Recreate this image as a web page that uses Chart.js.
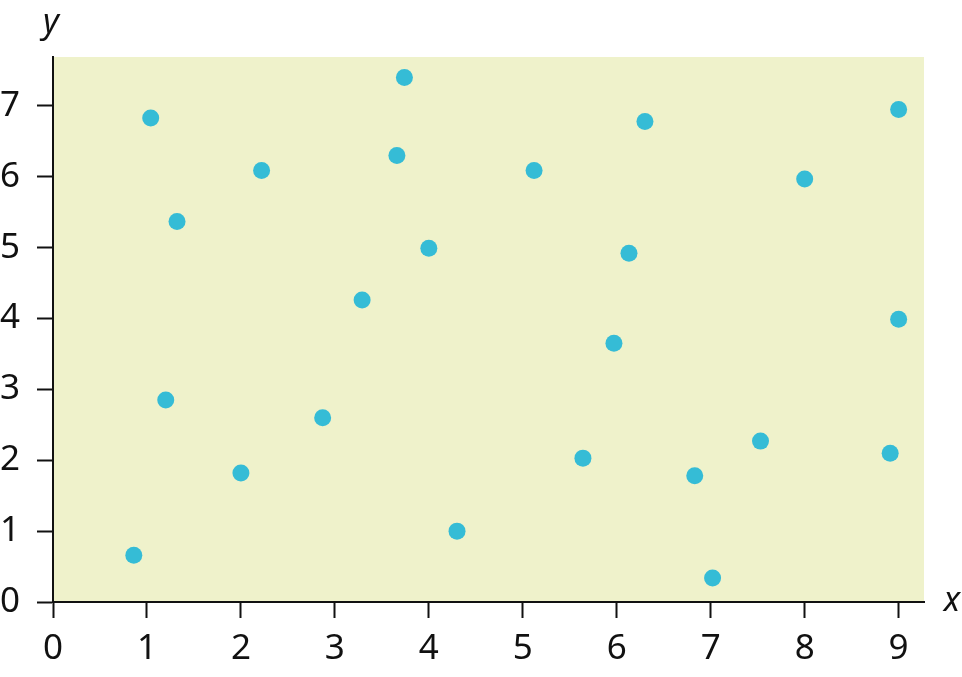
<!DOCTYPE html>
<html>
<head>
<meta charset="utf-8">
<script src="https://cdn.jsdelivr.net/npm/chart.js@4"></script>
<style>
  html, body { margin: 0; padding: 0; background: #ffffff; }
  #box { width: 962px; height: 677px; }
</style>
</head>
<body>
<div id="box"><canvas id="grafica"></canvas></div>
<script>
// datos
const xValues = [0.86, 1.04, 1.20, 1.32, 2.00, 2.22, 2.87, 3.29, 3.66, 3.74, 4.00, 4.30,
                 5.12, 5.64, 5.97, 6.13, 6.30, 6.83, 7.02, 7.53, 8.00, 8.91, 9.00, 9.00];
const yValues = [0.66, 6.83, 2.85, 5.37, 1.82, 6.09, 2.60, 4.26, 6.30, 7.40, 4.99, 1.00,
                 6.09, 2.03, 3.65, 4.92, 6.78, 1.78, 0.34, 2.27, 5.97, 2.10, 6.95, 3.99];
const xTicks = [0, 1, 2, 3, 4, 5, 6, 7, 8, 9];
const yTicks = [0, 1, 2, 3, 4, 5, 6, 7];
const xTitle = 'x';
const yTitle = 'y';

const puntos = xValues.map((x, i) => ({ x: x, y: yValues[i] }));
const fuente = "'Noto Sans', 'Open Sans', sans-serif";

const fondo = {
    id: 'fondo',
    beforeDraw(chart) {
        const a = chart.chartArea;
        const ctx = chart.ctx;
        ctx.save();
        ctx.fillStyle = '#eff2cb';
        ctx.fillRect(a.left, a.top, a.right - a.left, a.bottom - a.top);
        ctx.restore();
    },
    afterDraw(chart) {
        const a = chart.chartArea;
        const ctx = chart.ctx;
        ctx.save();
        ctx.fillStyle = '#111111';
        ctx.font = 'italic 34px ' + fuente;
        ctx.textAlign = 'center';
        ctx.textBaseline = 'alphabetic';
        ctx.fillText(yTitle, a.left - 2, 33);
        ctx.fillText(xTitle, a.right + 28, 611);
        ctx.restore();
    }
};

const ctx = document.getElementById('grafica');
const chart = new Chart(ctx, {
    type: 'scatter',
    data: {
        datasets: [{
            data: puntos,
            backgroundColor: '#35bcd6',
            borderWidth: 0,
            pointRadius: 8.5,
            pointHoverRadius: 8.5
        }]
    },
    options: {
        responsive: true,
        maintainAspectRatio: false,
        animation: false,
        events: [],
        layout: { padding: { top: 57, right: 38, left: 0, bottom: 0 } },
        plugins: { legend: { display: false }, tooltip: { enabled: false } },
        scales: {
            x: {
                type: 'linear',
                min: 0,
                max: 9.27,
                afterBuildTicks: s => { s.ticks = xTicks.map(v => ({ value: v })); },
                afterFit: s => { s.height = 75; },
                border: { display: true, color: '#111111', width: 2 },
                grid: { drawOnChartArea: false, drawTicks: true, tickLength: 16, tickColor: '#111111', tickWidth: 2 },
                ticks: { color: '#111111', padding: 10, maxRotation: 0, font: { family: fuente, size: 35 } }
            },
            y: {
                type: 'linear',
                min: 0,
                max: 7.69,
                afterBuildTicks: s => { s.ticks = yTicks.map(v => ({ value: v })); },
                afterFit: s => { s.width = 53; },
                border: { display: true, color: '#111111', width: 2 },
                grid: { drawOnChartArea: false, drawTicks: true, tickLength: 16, tickColor: '#111111', tickWidth: 2 },
                ticks: { color: '#111111', padding: 17, font: { family: fuente, size: 35 } }
            }
        }
    },
    plugins: [fondo]
});
</script>
</body>
</html>
